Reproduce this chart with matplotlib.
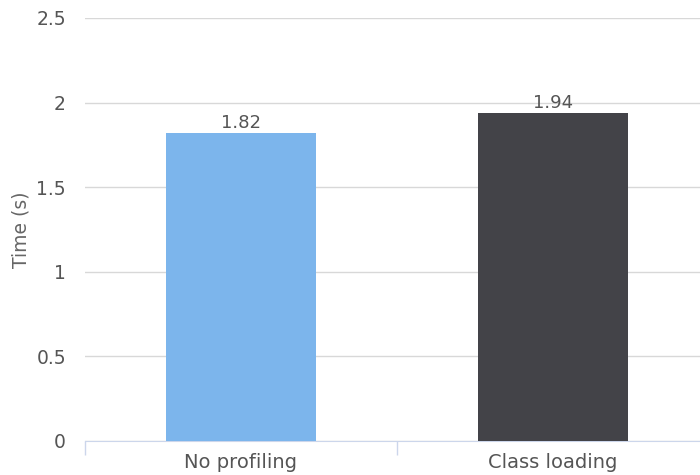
import matplotlib.pyplot as plt

plt.rcParams['font.family'] = ['DejaVu Sans']

categories = ["No profiling", "Class loading"]
times = [1.82, 1.94]
colors = ["#7cb5ec", "#434348"]
yticks = [0, 0.5, 1, 1.5, 2, 2.5]
ytick_labels = ["0", "0.5", "1", "1.5", "2", "2.5"]

fig = plt.figure(figsize=(7, 4.75), dpi=100)
# plot area runs past the right edge of the canvas
ax = fig.add_axes([85 / 700, 1 - 441 / 475, 624 / 700, 423 / 475])

x = list(range(len(categories)))
ax.bar(x, times, width=0.48, color=colors, zorder=3)
for xi, t in zip(x, times):
    ax.annotate(f"{t:.2f}", (xi, t), xytext=(0, 0.5), textcoords="offset points",
                ha="center", va="bottom", fontsize=13, color="#555555", zorder=4)

ax.set_xlim(-0.5, 1.5)
ax.set_ylim(0, 2.5)
ax.set_yticks(yticks)
ax.set_yticklabels(ytick_labels)
ax.grid(axis="y", color="#d8d8d8", linewidth=1, zorder=0)

ax.set_xticks(x)
ax.set_xticklabels(categories)
ax.set_xticks([-0.5, 0.5, 1.5], minor=True)
ax.tick_params(axis="x", which="major", length=0, pad=8.5, labelsize=14, labelcolor="#555555")
ax.tick_params(axis="x", which="minor", length=10, color="#ccd6eb", width=1)
ax.tick_params(axis="y", length=0, pad=13.7, labelsize=13.5, labelcolor="#555555")

for side in ["top", "right", "left"]:
    ax.spines[side].set_visible(False)
ax.spines["bottom"].set_color("#ccd6eb")

fig.text(21 / 700, 1 - 230 / 475, "Time (s)", rotation=90, ha="center", va="center",
         fontsize=13.5, color="#666666")

fig.savefig("out.png")
